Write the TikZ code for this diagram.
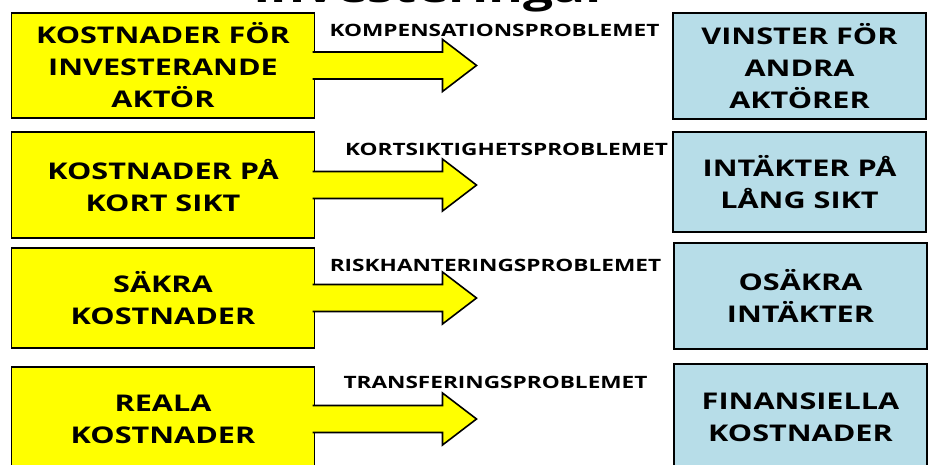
\documentclass[tikz,border=0pt]{standalone}
\usepackage{fontspec}
\setmainfont[FakeStretch=1.33]{Open Sans}
\usepackage{tikz}
\usetikzlibrary{positioning, calc}
\definecolor{costyellow}{RGB}{255,255,0}
\definecolor{gainblue}{RGB}{183,221,232}
\tikzset{
  costbox/.style={rectangle, draw=black, fill=costyellow,
    minimum width=303pt, align=center, inner sep=0pt, outer sep=0pt,
    font=\fontsize{23}{32}\selectfont\bfseries, line width=1.6pt},
  gainbox/.style={costbox, fill=gainblue, minimum width=253pt},
  problabel/.style={inner sep=0pt, font=\fontsize{17}{20}\selectfont\bfseries},
  fatarrow/.style={draw=black, fill=costyellow, line width=1.6pt, line join=miter}
}

\begin{document}
\begin{tikzpicture}[x=1pt, y=-1pt]
    \useasboundingbox (0,0) rectangle (928,465);
    % Title (cut off at the top)
    \node[anchor=base west, inner sep=0pt, font=\fontsize{40}{44}\selectfont\bfseries] (title) at (253,3) {Investeringar};
    % Cost side
    \node[costbox, minimum height=105pt] (cost1) at (163,65.5) {KOSTNADER FÖR\\INVESTERANDE\\AKTÖR};
    \node[costbox, minimum height=106pt] (cost2) at (163,185) {KOSTNADER PÅ\\KORT SIKT};
    \node[costbox, minimum height=100pt] (cost3) at (163,298) {SÄKRA\\KOSTNADER};
    \node[costbox, minimum height=104pt] (cost4) at (163,419) {REALA\\KOSTNADER};
    % Gain side
    \node[gainbox, minimum height=106pt] (gain1) at (799.5,66) {VINSTER FÖR\\ANDRA\\AKTÖRER};
    \node[gainbox, minimum height=100pt] (gain2) at (799.5,182) {INTÄKTER PÅ\\LÅNG SIKT};
    \node[gainbox, minimum height=106pt] (gain3) at (800.5,296) {OSÄKRA\\INTÄKTER};
    \node[gainbox, minimum height=106pt] (gain4) at (800.5,417) {FINANSIELLA\\KOSTNADER};
    % Block arrows
    \foreach \k in {1,...,4}
      \filldraw[fatarrow] ($(cost\k.east)+(-2,-13.5)$) -- ++(130,0) -- ++(0,-12.5)
        -- ++(34,26) -- ++(-34,26) -- ++(0,-12.5) -- ++(-130,0);
    % Problem labels
    \node[problabel] (prob1) at (494.5,30) {KOMPENSATIONSPROBLEMET};
    \node[problabel] (prob2) at (506.5,149) {KORTSIKTIGHETSPROBLEMET};
    \node[problabel] (prob3) at (495.5,265) {RISKHANTERINGSPROBLEMET};
    \node[problabel] (prob4) at (495.5,382) {TRANSFERINGSPROBLEMET};
\end{tikzpicture}
\end{document}
